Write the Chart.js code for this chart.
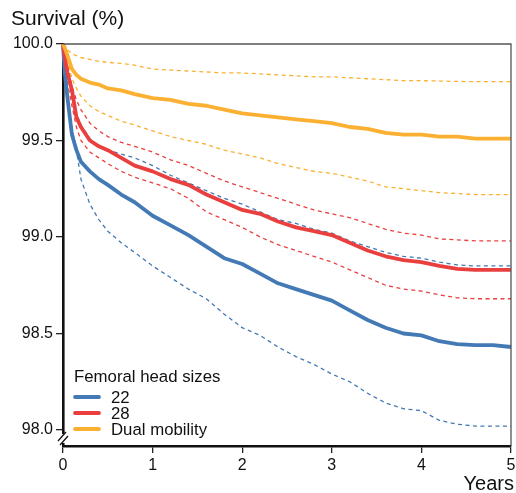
<!DOCTYPE html>
<html><head><meta charset="utf-8">
<script src="https://cdn.jsdelivr.net/npm/chart.js@4.4.0/dist/chart.umd.min.js"></script>
<style>html,body{margin:0;padding:0;background:#fff;}#wrap{width:516px;height:493px;}</style>
</head><body><div id="wrap"><canvas id="c" width="516" height="493"></canvas></div>
<script>
// ---- data ----
const years = [0, 0.02, 0.05, 0.1, 0.15, 0.2, 0.3, 0.4, 0.5, 0.65, 0.8, 1.0, 1.2, 1.4, 1.6, 1.8, 2.0, 2.2, 2.4, 2.6, 2.8, 3.0, 3.2, 3.4, 3.6, 3.8, 4.0, 4.2, 4.4, 4.6, 4.8, 5.0];

const head22      = [100, 99.85, 99.72, 99.53, 99.45, 99.39, 99.34, 99.30, 99.27, 99.22, 99.18, 99.11, 99.06, 99.01, 98.95, 98.89, 98.86, 98.81, 98.76, 98.73, 98.70, 98.67, 98.62, 98.57, 98.53, 98.50, 98.49, 98.46, 98.445, 98.44, 98.44, 98.43];
const head22Upper = [100, 99.93, 99.86, 99.72, 99.64, 99.58, 99.51, 99.47, 99.45, 99.43, 99.41, 99.37, 99.32, 99.28, 99.24, 99.20, 99.17, 99.13, 99.09, 99.07, 99.04, 99.02, 98.98, 98.95, 98.92, 98.90, 98.89, 98.87, 98.855, 98.85, 98.85, 98.85];
const head22Lower = [100, 99.85, 99.72, 99.57, 99.45, 99.30, 99.17, 99.09, 99.03, 98.97, 98.92, 98.85, 98.79, 98.73, 98.68, 98.60, 98.53, 98.49, 98.43, 98.38, 98.34, 98.29, 98.25, 98.19, 98.14, 98.11, 98.10, 98.05, 98.03, 98.02, 98.02, 98.02];

const head28      = [100, 99.93, 99.85, 99.76, 99.62, 99.57, 99.50, 99.47, 99.45, 99.41, 99.37, 99.34, 99.30, 99.27, 99.22, 99.18, 99.14, 99.12, 99.08, 99.05, 99.03, 99.01, 98.97, 98.93, 98.90, 98.88, 98.87, 98.85, 98.835, 98.83, 98.83, 98.83];
const head28Upper = [100, 99.96, 99.90, 99.78, 99.71, 99.66, 99.59, 99.55, 99.52, 99.49, 99.47, 99.44, 99.40, 99.37, 99.33, 99.29, 99.26, 99.23, 99.20, 99.17, 99.14, 99.12, 99.10, 99.07, 99.04, 99.02, 99.01, 98.99, 98.985, 98.98, 98.98, 98.98];
const head28Lower = [100, 99.90, 99.80, 99.68, 99.57, 99.50, 99.44, 99.41, 99.38, 99.34, 99.31, 99.28, 99.25, 99.20, 99.13, 99.09, 99.05, 99.00, 98.96, 98.93, 98.90, 98.87, 98.83, 98.79, 98.75, 98.73, 98.72, 98.70, 98.685, 98.68, 98.68, 98.68];

const dualMob      = [100, 99.98, 99.94, 99.87, 99.84, 99.82, 99.80, 99.79, 99.77, 99.76, 99.74, 99.72, 99.71, 99.69, 99.68, 99.66, 99.64, 99.63, 99.62, 99.61, 99.60, 99.59, 99.57, 99.56, 99.54, 99.53, 99.53, 99.52, 99.52, 99.51, 99.51, 99.51];
const dualMobUpper = [100, 99.99, 99.97, 99.95, 99.94, 99.93, 99.92, 99.91, 99.905, 99.90, 99.89, 99.87, 99.865, 99.86, 99.855, 99.85, 99.85, 99.845, 99.84, 99.835, 99.83, 99.83, 99.825, 99.82, 99.815, 99.81, 99.81, 99.808, 99.806, 99.805, 99.805, 99.805];
const dualMobLower = [100, 99.96, 99.91, 99.82, 99.77, 99.73, 99.68, 99.65, 99.63, 99.60, 99.58, 99.55, 99.52, 99.50, 99.48, 99.45, 99.43, 99.41, 99.38, 99.36, 99.34, 99.33, 99.31, 99.29, 99.26, 99.25, 99.24, 99.23, 99.225, 99.22, 99.22, 99.22];

const yTicks = [98.0, 98.5, 99.0, 99.5, 100.0];
const xTicks = [0, 1, 2, 3, 4, 5];
const seriesNames = ['22', '28', 'Dual mobility'];
const legendTitle = 'Femoral head sizes';
const yTitle = 'Survival (%)';
const xTitle = 'Years';

// ---- styling ----
const BLUE = '#4379b4', RED = '#e9403f', ORANGE = '#fbb032';
const FONT = '"Liberation Sans", Arial, Helvetica, sans-serif';
const pts = arr => arr.map((v, i) => ({x: years[i], y: v}));

function solid(label, data, color, order) {
  return {label, data: pts(data), borderColor: color, borderWidth: 3.8, pointRadius: 0,
          fill: false, tension: 0, clip: false, order, borderJoinStyle: 'round', borderCapStyle: 'butt'};
}
function dashed(label, data, color, order) {
  return {label, data: pts(data), borderColor: color, borderWidth: 1.3, borderDash: [4, 3.5], pointRadius: 0,
          fill: false, tension: 0, clip: false, order};
}

const datasets = [
  dashed('22 upper', head22Upper, BLUE, 9),
  dashed('22 lower', head22Lower, BLUE, 9),
  dashed('28 upper', head28Upper, RED, 8),
  dashed('28 lower', head28Lower, RED, 8),
  dashed('DM upper', dualMobUpper, ORANGE, 7),
  dashed('DM lower', dualMobLower, ORANGE, 7),
  solid(seriesNames[0], head22, BLUE, 3),
  solid(seriesNames[1], head28, RED, 2),
  solid(seriesNames[2], dualMob, ORANGE, 1)
];
const legendColors = [BLUE, RED, ORANGE];

const decor = {
  id: 'decor',
  afterDraw(chart) {
    const ctx = chart.ctx, a = chart.chartArea;
    ctx.save();
    // thin frame top and right
    ctx.strokeStyle = '#555'; ctx.lineWidth = 1.3;
    ctx.beginPath();
    ctx.moveTo(a.left, a.top); ctx.lineTo(a.right, a.top); ctx.lineTo(a.right, a.bottom);
    ctx.stroke();
    // axis break on the y axis
    ctx.fillStyle = '#fff';
    ctx.fillRect(a.left - 4, 434, 8, 9);
    ctx.strokeStyle = '#111'; ctx.lineWidth = 1.3;
    ctx.beginPath();
    ctx.moveTo(a.left - 5, 441); ctx.lineTo(a.left + 3, 432);
    ctx.moveTo(a.left - 3, 445); ctx.lineTo(a.left + 5, 436);
    ctx.stroke();
    // titles
    ctx.fillStyle = '#111';
    ctx.textBaseline = 'alphabetic';
    ctx.font = '21px ' + FONT;
    ctx.textAlign = 'left';
    ctx.fillText(yTitle, 11, 25);
    ctx.textAlign = 'right';
    ctx.font = '20px ' + FONT;
    ctx.fillText(xTitle, 514, 490);
    // legend
    ctx.textAlign = 'left';
    ctx.font = '16.8px ' + FONT;
    ctx.fillText(legendTitle, 74, 382);
    ctx.textBaseline = 'middle';
    seriesNames.forEach((n, i) => {
      const y = 397 + i * 16;
      ctx.strokeStyle = legendColors[i]; ctx.lineWidth = 3.8; ctx.lineCap = 'round';
      ctx.beginPath(); ctx.moveTo(75, y); ctx.lineTo(99, y); ctx.stroke();
      ctx.fillStyle = '#111';
      ctx.fillText(n, 111, y + 1);
    });
    ctx.restore();
  }
};

new Chart(document.getElementById('c'), {
  type: 'line',
  data: {datasets},
  plugins: [decor],
  options: {
    responsive: false,
    animation: false,
    layout: {padding: {top: 44, right: 5, left: 0, bottom: 0}},
    plugins: {legend: {display: false}, title: {display: false}, tooltip: {enabled: false}},
    scales: {
      x: {
        type: 'linear', min: 0, max: 5,
        afterBuildTicks: s => { s.ticks = xTicks.map(v => ({value: v})); },
        afterFit: s => { s.height = 47; s.paddingLeft = 0; s.paddingRight = 0; },
        ticks: {font: {family: FONT, size: 16}, color: '#111', padding: 3, maxRotation: 0},
        grid: {drawOnChartArea: false, drawTicks: true, tickLength: 7, color: '#222', lineWidth: 1.3},
        border: {display: true, color: '#111', width: 2.6}
      },
      y: {
        type: 'linear', min: 97.917, max: 100,
        afterBuildTicks: s => { s.ticks = yTicks.map(v => ({value: v})); },
        afterFit: s => { s.width = 63; s.paddingTop = 0; s.paddingBottom = 0; },
        ticks: {font: {family: FONT, size: 16}, color: '#111', padding: 3, callback: v => v.toFixed(1)},
        grid: {drawOnChartArea: false, drawTicks: true, tickLength: 7, color: '#222', lineWidth: 1.3},
        border: {display: true, color: '#111', width: 2.6}
      }
    }
  }
});
</script>
</body></html>
